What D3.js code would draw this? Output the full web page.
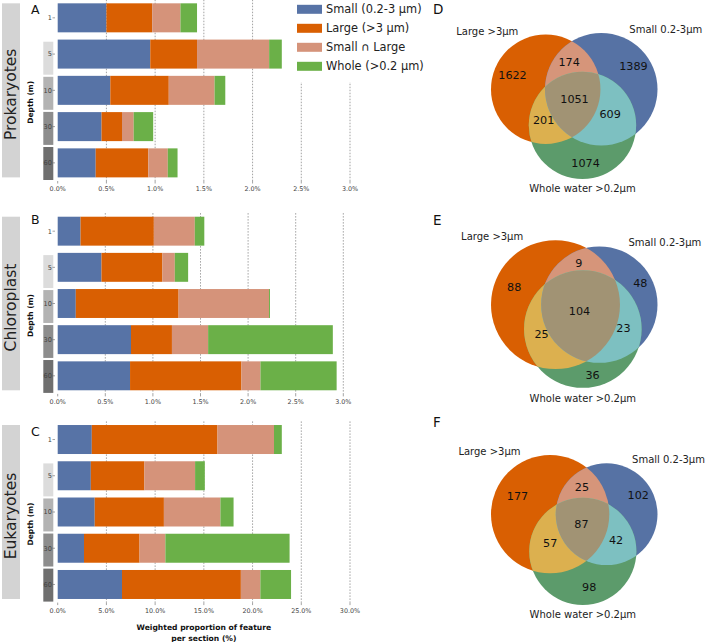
<!DOCTYPE html>
<html>
<head>
<meta charset="utf-8">
<script src="https://cdn.jsdelivr.net/npm/d3@7"></script>
<style>
  body { margin: 0; background: #fff; }
  svg { font-family: "DejaVu Sans", sans-serif; }
</style>
</head>
<body>
<svg id="figure" width="709" height="642"></svg>
<script>
/* ******************** data ************************* */
var depths = ["1", "5", "10", "30", "60"];
var fractions = ["Small (0.2-3 µm)", "Large (>3 µm)", "Small ∩ Large", "Whole (>0.2 µm)"];
var fractionColors = ["#5773a6", "#d95f02", "#d5937a", "#6bb048"];
var depthShades = [null, "#dcdcdc", "#b3b3b3", "#8d8d8d", "#6f6f6f"];

// segment widths per depth, order = fractions (weighted proportion, %)
var prokaryotes = [
  [0.50, 0.47, 0.29, 0.17],
  [0.95, 0.48, 0.74, 0.13],
  [0.54, 0.60, 0.47, 0.11],
  [0.45, 0.21, 0.12, 0.20],
  [0.39, 0.54, 0.20, 0.10]
];
var chloroplast = [
  [0.24, 0.77, 0.43, 0.10],
  [0.46, 0.64, 0.13, 0.14],
  [0.19, 1.08, 0.95, 0.01],
  [0.77, 0.43, 0.38, 1.31],
  [0.76, 1.17, 0.20, 0.80]
];
var eukaryotes = [
  [3.5, 12.9, 5.8, 0.8],
  [3.4, 5.5, 5.2, 1.0],
  [3.8, 7.1, 5.8, 1.35],
  [2.7, 5.7, 2.65, 12.75],
  [6.6, 12.2, 2.0, 3.15]
];
var ticksSmall = [0, 0.5, 1.0, 1.5, 2.0, 2.5, 3.0];
var ticksLarge = [0, 5, 10, 15, 20, 25, 30];

// venn subsets: Large only, Small only, Large∩Small, Whole only, Large∩Whole, Small∩Whole, all three
var vennSetLabels = ["Large >3µm", "Small 0.2-3µm", "Whole water >0.2µm"];
var vennProk = [1622, 1389, 174, 1074, 201, 609, 1051];
var vennChloro = [88, 48, 9, 36, 25, 23, 104];
var vennEuk = [177, 102, 25, 98, 57, 42, 87];
var vennColors = ["#d95f02", "#5672a4", "#d6957a", "#5c9b6b", "#dcb04f", "#7dc0c1", "#a19374"];

var svg = d3.select("#figure");

/* ******************** bar panels ************************* */
var barPanels = [
  { letter: "A", name: "Prokaryotes", data: prokaryotes, ticks: ticksSmall, x1: 350, y0: -0.3, y1: 181, titleY: 14 },
  { letter: "B", name: "Chloroplast", data: chloroplast, ticks: ticksSmall, x1: 343.3, y0: 213.1, y1: 393.9, titleY: 223.5 },
  { letter: "C", name: "Eukaryotes", data: eukaryotes, ticks: ticksLarge, x1: 350, y0: 421.4, y1: 602.6, titleY: 436 }
];

barPanels.forEach(function(p, pi) {
  var g = svg.append("g");
  var x = d3.scaleLinear().domain([0, p.ticks[p.ticks.length - 1]]).range([57.7, p.x1]);
  var y = d3.scaleBand().domain(depths).range([p.y0, p.y1]).paddingInner(0.2).paddingOuter(0.1);
  // the shaded depth strip sits on its own slightly shifted band
  var strip = d3.scaleBand().domain(depths.slice(1)).range([p.y0 + 42, p.y1 - 1]).paddingInner(0.06);

  // dotted grid
  g.append("g").selectAll("line")
    .data(p.ticks.slice(1))
    .enter().append("line")
      .attr("x1", function(d) { return x(d); })
      .attr("x2", function(d) { return x(d); })
      .attr("y1", p.y0).attr("y2", p.y1)
      .attr("stroke", "#8a8a8a")
      .attr("stroke-width", 0.8)
      .attr("stroke-dasharray", "1.5,1.5");

  // stacked bars
  var rows = g.append("g").selectAll("g")
    .data(p.data)
    .enter().append("g");
  rows.selectAll("rect")
    .data(function(row, ri) {
      var acc = 0;
      return row.map(function(v, k) { var s = acc; acc += v; return { s: s, e: acc, k: k, ri: ri }; });
    })
    .enter().append("rect")
      .attr("x", function(d) { return x(d.s); })
      .attr("width", function(d) { return x(d.e) - x(d.s); })
      .attr("y", function(d) { return y(depths[d.ri]); })
      .attr("height", y.bandwidth())
      .attr("fill", function(d) { return fractionColors[d.k]; });

  // x axis labels
  g.append("g").selectAll("text")
    .data(p.ticks)
    .enter().append("text")
      .attr("x", function(d) { return x(d); })
      .attr("y", p.y1 + 10)
      .attr("text-anchor", "middle")
      .attr("font-size", 6.4)
      .attr("fill", "#444")
      .text(function(d) { return d3.format(".1f")(d) + "%"; });
  g.append("g").selectAll("line")
    .data(p.ticks)
    .enter().append("line")
      .attr("x1", function(d) { return x(d); }).attr("x2", function(d) { return x(d); })
      .attr("y1", p.y1).attr("y2", p.y1 + 2.5)
      .attr("stroke", "#666").attr("stroke-width", 0.6);

  // depth strip
  g.append("g").selectAll("rect")
    .data(depths.slice(1))
    .enter().append("rect")
      .attr("x", 43.3)
      .attr("width", 10)
      .attr("y", function(d) { return strip(d); })
      .attr("height", strip.bandwidth())
      .attr("fill", function(d) { return depthShades[depths.indexOf(d)]; });
  g.append("g").selectAll("text")
    .data(depths)
    .enter().append("text")
      .attr("x", 52)
      .attr("y", function(d) { return y(d) + y.bandwidth() / 2 + 2.4; })
      .attr("text-anchor", "end")
      .attr("font-size", 6.6)
      .attr("fill", "#444")
      .text(function(d) { return d; });
  g.append("g").selectAll("line")
    .data(depths)
    .enter().append("line")
      .attr("x1", 52.5).attr("x2", 55)
      .attr("y1", function(d) { return y(d) + y.bandwidth() / 2; })
      .attr("y2", function(d) { return y(d) + y.bandwidth() / 2; })
      .attr("stroke", "#666").attr("stroke-width", 0.6);

  var midY = (p.y0 + p.y1) / 2;
  g.append("text")
    .attr("transform", "translate(33," + (midY + 12) + ") rotate(-90)")
    .attr("text-anchor", "middle")
    .attr("font-size", 7.5)
    .attr("font-weight", "bold")
    .attr("fill", "#111")
    .text("Depth (m)");

  // group label box
  var top = y(depths[0]), bottom = y(depths[4]) + y.bandwidth();
  g.append("rect")
    .attr("x", 2).attr("width", 18)
    .attr("y", top).attr("height", bottom - top)
    .attr("fill", "#d3d3d3");
  g.append("text")
    .attr("transform", "translate(16," + ((top + bottom) / 2 + 4) + ") rotate(-90)")
    .attr("text-anchor", "middle")
    .attr("font-size", 15.5)
    .attr("fill", "#222")
    .text(p.name);

  g.append("text")
    .attr("x", 31).attr("y", p.titleY)
    .attr("font-size", 12.5)
    .attr("fill", "#111")
    .text(p.letter);

  if (pi === 2) {
    var cx = (57.7 + p.x1) / 2;
    var title = g.append("text")
      .attr("text-anchor", "middle")
      .attr("font-size", 7.6)
      .attr("font-weight", "bold")
      .attr("fill", "#111");
    title.append("tspan").attr("x", cx).attr("y", 630).text("Weighted proportion of feature");
    title.append("tspan").attr("x", cx).attr("y", 640.5).text("per section (%)");
  }
});

/* ******************** legend ************************* */
var legend = svg.append("g");
legend.append("rect").attr("x", 291).attr("y", 0).attr("width", 140).attr("height", 82).attr("fill", "#fff");
var items = legend.selectAll("g")
  .data(fractions)
  .enter().append("g")
    .attr("transform", function(d, i) { return "translate(297," + (9.3 + i * 19) + ")"; });
items.append("rect")
  .attr("x", 0).attr("y", -4.5).attr("width", 25).attr("height", 9)
  .attr("fill", function(d, i) { return fractionColors[i]; });
items.append("text")
  .attr("x", 29).attr("y", 4)
  .attr("font-size", 11.4)
  .attr("fill", "#222")
  .text(function(d) { return d; });

/* ******************** venn panels ************************* */
function lensArea(r1, r2, d) {
  if (d >= r1 + r2) return 0;
  if (d <= Math.abs(r1 - r2)) return Math.PI * Math.min(r1, r2) * Math.min(r1, r2);
  var a = r1 * r1 * Math.acos((d * d + r1 * r1 - r2 * r2) / (2 * d * r1));
  var b = r2 * r2 * Math.acos((d * d + r2 * r2 - r1 * r1) / (2 * d * r2));
  var c = 0.5 * Math.sqrt((-d + r1 + r2) * (d + r1 - r2) * (d - r1 + r2) * (d + r1 + r2));
  return a + b - c;
}
function distForArea(r1, r2, area) {
  var lo = Math.abs(r1 - r2), hi = r1 + r2;
  for (var i = 0; i < 60; i++) {
    var mid = (lo + hi) / 2;
    if (lensArea(r1, r2, mid) > area) lo = mid; else hi = mid;
  }
  return (lo + hi) / 2;
}

// circle layout like the matplotlib venn3 solver
function vennLayout(s) {
  var total = d3.sum(s);
  var areas = [s[0] + s[2] + s[4] + s[6], s[1] + s[2] + s[5] + s[6], s[3] + s[4] + s[5] + s[6]].map(function(v) { return v / total; });
  var r = areas.map(function(a) { return Math.sqrt(a / Math.PI); });
  var dab = distForArea(r[0], r[1], (s[2] + s[6]) / total);
  var dbc = distForArea(r[1], r[2], (s[5] + s[6]) / total);
  var dac = distForArea(r[0], r[2], (s[4] + s[6]) / total);
  var cxp = (dac * dac - dbc * dbc + dab * dab) / (2 * dab);
  var cyp = -Math.sqrt(Math.max(0, dac * dac - cxp * cxp));
  var pts = [[0, 0], [dab, 0], [cxp, cyp]];
  var w = r.map(function(v) { return v * v; }), ws = d3.sum(w);
  var mx = d3.sum(pts, function(p, i) { return p[0] * w[i]; }) / ws;
  var my = d3.sum(pts, function(p, i) { return p[1] * w[i]; }) / ws;
  return pts.map(function(p, i) { return { x: p[0] - mx, y: p[1] - my, r: r[i] }; });
}

// region label = mean of boundary arc midpoints, weighted by arc angle
function regionLabels(c) {
  var acc = d3.range(7).map(function() { return [0, 0, 0]; });
  c.forEach(function(ci, i) {
    var angs = [];
    c.forEach(function(cj, j) {
      if (j === i) return;
      var dx = cj.x - ci.x, dy = cj.y - ci.y, d = Math.sqrt(dx * dx + dy * dy);
      if (d >= ci.r + cj.r || d <= Math.abs(ci.r - cj.r)) return;
      var a = (d * d + ci.r * ci.r - cj.r * cj.r) / (2 * d);
      var h = Math.sqrt(ci.r * ci.r - a * a);
      var bx = ci.x + a * dx / d, by = ci.y + a * dy / d;
      [[bx - h * dy / d, by + h * dx / d], [bx + h * dy / d, by - h * dx / d]].forEach(function(q) {
        var t = Math.atan2(q[1] - ci.y, q[0] - ci.x);
        angs.push(t < 0 ? t + 2 * Math.PI : t);
      });
    });
    angs.sort(d3.ascending);
    angs.forEach(function(a0, k) {
      var a1 = k + 1 < angs.length ? angs[k + 1] : angs[0] + 2 * Math.PI;
      var m = (a0 + a1) / 2, span = a1 - a0;
      var px = ci.x + ci.r * Math.cos(m), py = ci.y + ci.r * Math.sin(m);
      var bits = 0;
      c.forEach(function(cj, j) {
        if (j !== i && (px - cj.x) * (px - cj.x) + (py - cj.y) * (py - cj.y) < cj.r * cj.r) bits |= (1 << j);
      });
      [bits | (1 << i), bits].forEach(function(code) {
        if (!code) return;
        var s = acc[code - 1];
        s[0] += px * span; s[1] += py * span; s[2] += span;
      });
    });
  });
  return acc.map(function(s) { return [s[0] / s[2], s[1] / s[2]]; });
}

var vennPanels = [
  { letter: "D", data: vennProk, letterY: 13.5, cy: 106 },
  { letter: "E", data: vennChloro, letterY: 225, cy: 314 },
  { letter: "F", data: vennEuk, letterY: 426.7, cy: 530 }
];
var defs = svg.append("defs");

vennPanels.forEach(function(p) {
  var c = vennLayout(p.data);
  var minX = d3.min(c, function(d) { return d.x - d.r; }), maxX = d3.max(c, function(d) { return d.x + d.r; });
  var minY = d3.min(c, function(d) { return d.y - d.r; }), maxY = d3.max(c, function(d) { return d.y + d.r; });
  var sx = d3.scaleLinear().domain([minX, maxX]).range([491, 657.5]);
  var k = (sx(1) - sx(0));
  var sy = d3.scaleLinear().domain([minY, maxY]).range([p.cy + (maxY - minY) * k / 2, p.cy - (maxY - minY) * k / 2]);
  var circ = c.map(function(d) { return { x: sx(d.x), y: sy(d.y), r: d.r * k }; });

  var ids = ["A", "B", "C"].map(function(n) { return "clip" + p.letter + n; });
  circ.forEach(function(d, i) {
    defs.append("clipPath").attr("id", ids[i])
      .append("circle").attr("cx", d.x).attr("cy", d.y).attr("r", d.r);
  });

  var g = svg.append("g");
  function disc(parent, i, color, clip) {
    var el = parent.append("circle")
      .attr("cx", circ[i].x).attr("cy", circ[i].y).attr("r", circ[i].r)
      .attr("fill", color);
    if (clip !== undefined) el.attr("clip-path", "url(#" + ids[clip] + ")");
    return el;
  }
  disc(g, 0, vennColors[0]);
  disc(g, 1, vennColors[1]);
  disc(g, 2, vennColors[3]);
  disc(g, 1, vennColors[2], 0);
  disc(g, 2, vennColors[4], 0);
  disc(g, 2, vennColors[5], 1);
  disc(g.append("g").attr("clip-path", "url(#" + ids[0] + ")"), 2, vennColors[6], 1);

  var pos = regionLabels(circ);
  g.selectAll("text.count")
    .data(p.data)
    .enter().append("text")
      .attr("class", "count")
      .attr("x", function(d, i) { return pos[i][0]; })
      .attr("y", function(d, i) { return pos[i][1] + 2.3; })
      .attr("text-anchor", "middle")
      .attr("font-size", 11.2)
      .attr("fill", "#111")
      .text(function(d) { return d; });

  // set labels
  g.append("text")
    .attr("x", circ[0].x - circ[0].r / 2).attr("y", circ[0].y - circ[0].r)
    .attr("text-anchor", "end").attr("font-size", 10).attr("fill", "#222")
    .text(vennSetLabels[0]);
  g.append("text")
    .attr("x", circ[1].x + circ[1].r / 2).attr("y", circ[1].y - circ[1].r)
    .attr("text-anchor", "start").attr("font-size", 10).attr("fill", "#222")
    .text(vennSetLabels[1]);
  g.append("text")
    .attr("x", circ[2].x).attr("y", circ[2].y + circ[2].r * 1.1 + 8)
    .attr("text-anchor", "middle").attr("font-size", 10).attr("fill", "#222")
    .text(vennSetLabels[2]);

  svg.append("text")
    .attr("x", 433).attr("y", p.letterY)
    .attr("font-size", 13.5)
    .attr("fill", "#111")
    .text(p.letter);
});
</script>
</body>
</html>
